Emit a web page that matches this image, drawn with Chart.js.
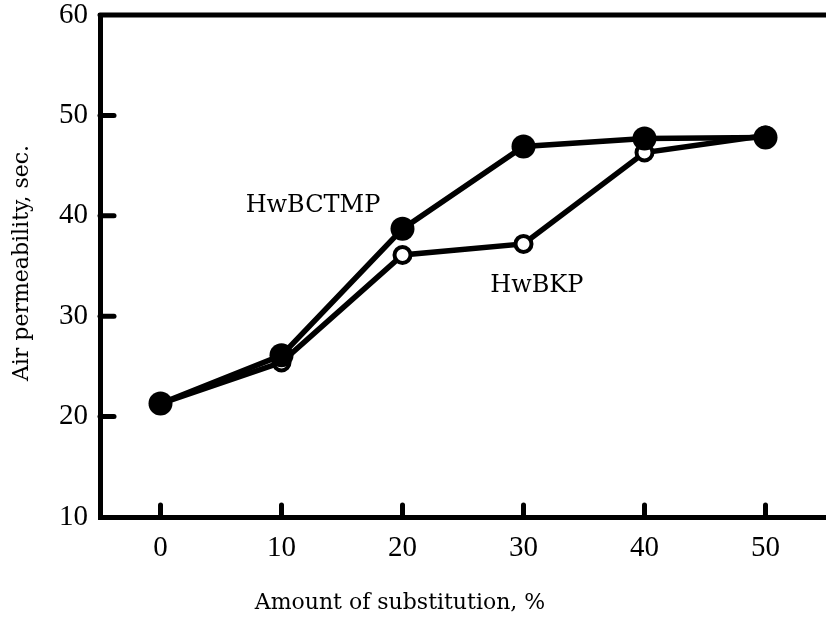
<!DOCTYPE html>
<html lang="en">
<head>
    <meta charset="UTF-8">
    <title>Air permeability vs amount of substitution</title>
    <style>
        html, body { margin: 0; padding: 0; background: #fff; }
        .main { width: 826px; height: 617px; }
    </style>
</head>
<body>
    <div class="main">
        <canvas id="myChart" width="826" height="617"></canvas>
    </div>

<script src="https://cdn.jsdelivr.net/npm/chart.js"></script>
<script>
    // values
    const substitution = [0, 10, 20, 30, 40, 50];
    const hwBCTMP = [21.3, 26.1, 38.7, 46.9, 47.7, 47.8];
    const hwBKP = [21.3, 25.4, 36.1, 37.2, 46.3, 48.0];
    const xTicks = [0, 10, 20, 30, 40, 50];
    const yTicks = [10, 20, 30, 40, 50, 60];
    const seriesNames = ['HwBCTMP', 'HwBKP'];
    const xTitle = 'Amount of substitution, %';
    const yTitle = 'Air permeability, sec.';
    // where the curve names sit, in data units
    const nameSpots = [[12.6, 41.0], [31.1, 33.0]];

    const toPoints = (ys) => substitution.map((x, i) => ({ x: x, y: ys[i] }));

    // big markers would otherwise push the plot area in from the canvas edge
    Chart.LineController.prototype.getMaxOverflow = function () { return 0; };

    // inward ticks, top frame line, axis titles and the curve names
    const decorate = {
        id: 'decorate',
        afterDraw(chart) {
            const ctx = chart.ctx;
            const area = chart.chartArea;
            const xs = chart.scales.x, ys = chart.scales.y;
            ctx.save();
            ctx.strokeStyle = '#000';
            ctx.lineCap = 'round';
            ctx.lineWidth = 5;
            ctx.beginPath();
            ctx.moveTo(area.left, area.top);
            ctx.lineTo(area.right, area.top);
            ctx.stroke();
            yTicks.forEach(v => {
                if (v === 10 || v === 60) return;
                const py = ys.getPixelForValue(v);
                ctx.beginPath();
                ctx.moveTo(area.left, py);
                ctx.lineTo(area.left + 14, py);
                ctx.stroke();
            });
            xTicks.forEach(v => {
                const px = xs.getPixelForValue(v);
                ctx.beginPath();
                ctx.moveTo(px, area.bottom);
                ctx.lineTo(px, area.bottom - 12);
                ctx.stroke();
            });
            ctx.fillStyle = '#000';
            ctx.font = '24px "DejaVu Serif"';
            ctx.textAlign = 'center';
            ctx.textBaseline = 'middle';
            seriesNames.forEach((name, i) => {
                ctx.fillText(name, xs.getPixelForValue(nameSpots[i][0]), ys.getPixelForValue(nameSpots[i][1]));
            });
            ctx.font = '22px "DejaVu Serif"';
            ctx.fillText(xTitle, area.left + 300, area.bottom + 86);
            ctx.translate(22, ys.getPixelForValue(35.3));
            ctx.rotate(-Math.PI / 2);
            ctx.fillText(yTitle, 0, 0);
            ctx.restore();
        }
    };

    const ctx = document.getElementById('myChart');

    new Chart(ctx, {
        type: 'line',
        data: {
            datasets: [{
                label: seriesNames[0],
                data: toPoints(hwBCTMP),
                borderColor: '#000',
                borderWidth: 5.5,
                pointRadius: 12,
                pointBorderWidth: 0,
                pointBackgroundColor: '#000',
                tension: 0,
                clip: false
            }, {
                label: seriesNames[1],
                data: toPoints(hwBKP),
                borderColor: '#000',
                borderWidth: 5.5,
                pointRadius: 8,
                pointBorderWidth: 4,
                pointBackgroundColor: '#fff',
                pointBorderColor: '#000',
                tension: 0,
                clip: false
            }]
        },
        options: {
            responsive: false,
            animation: false,
            layout: { padding: { top: 15, right: 0, left: 0, bottom: 0 } },
            plugins: { legend: { display: false }, tooltip: { enabled: false } },
            scales: {
                x: {
                    type: 'linear',
                    min: -5,
                    max: 55,
                    afterBuildTicks: (s) => { s.ticks = xTicks.map(v => ({ value: v })); },
                    afterFit: (s) => {
                        s.height = 100;
                        s.paddingLeft = 0;
                        s.paddingRight = 0;
                    },
                    grid: { display: false },
                    border: { display: true, color: '#000', width: 5 },
                    ticks: {
                        color: '#000',
                        padding: 6,
                        font: { family: '"Liberation Serif"', size: 29 }
                    }
                },
                y: {
                    min: 10,
                    max: 60,
                    afterBuildTicks: (s) => { s.ticks = yTicks.map(v => ({ value: v })); },
                    afterFit: (s) => {
                        s.width = 100;
                        s.paddingTop = 0;
                        s.paddingBottom = 0;
                    },
                    grid: { display: false },
                    border: { display: true, color: '#000', width: 5 },
                    ticks: {
                        color: '#000',
                        padding: 4,
                        font: { family: '"Liberation Serif"', size: 29 }
                    }
                }
            }
        },
        plugins: [decorate]
    });
</script>
</body>
</html>
